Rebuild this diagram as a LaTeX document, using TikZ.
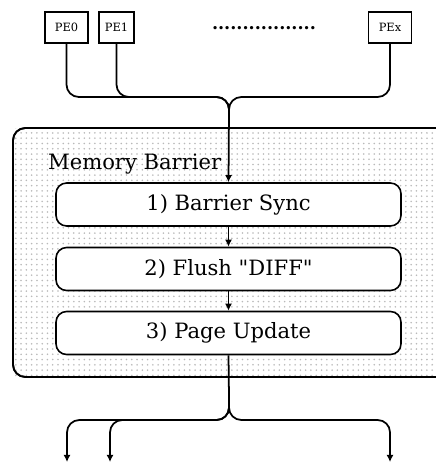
\documentclass[tikz,border=0pt]{standalone}
\usepackage{fontspec}
\setmainfont{DejaVu Serif}
\usepackage{tikz}
\usetikzlibrary{patterns,arrows.meta}

\tikzset{
  pebox/.style={draw, line width=0.9pt, minimum height=0.62cm, inner sep=0pt, font=\fontsize{6.5}{8}\selectfont},
  stepbox/.style={draw, line width=0.9pt, fill=white, rounded corners=6pt, minimum width=6.9cm, minimum height=0.86cm, font=\fontsize{12}{14}\selectfont},
  wire/.style={line width=1pt, rounded corners=7pt},
}

\begin{document}
\begin{tikzpicture}[x=0.02cm, y=-0.02cm, >={Latex[length=4pt,width=4pt]}]
\useasboundingbox (0,0) rectangle (435,465);

% Processing elements
\node [pebox, minimum width=0.86cm] (pe0) at (66.5,27.5) {PE0};
\node [pebox, minimum width=0.70cm] (pe1) at (116.5,27.5) {PE1};
\node [pebox, minimum width=0.86cm] (pex) at (390,27.5) {PEx};
\node [font=\bfseries\fontsize{10}{11}\selectfont] (dots) at (264,28) {.................};

% Memory barrier region
\draw [line width=1pt, rounded corners=7pt, fill=white] (13,128) rectangle (450,377);
\fill [pattern=dots, pattern color=gray!55] (14,129) rectangle (449,376);
\draw [line width=1pt, rounded corners=7pt] (13,128) rectangle (450,377);
\node [anchor=base west, font=\fontsize{12}{14}\selectfont] (mb) at (42,170) {Memory Barrier};

% Steps
\node [stepbox] (b1) at (228.5,204.5) {1) Barrier Sync};
\node [stepbox] (b2) at (228.5,269) {2) Flush \textquotedbl DIFF\textquotedbl};
\node [stepbox] (b3) at (228.5,333) {3) Page Update};

% Merge of the PEs
\coordinate (hub) at (229,97);
\coordinate (merge) at (229,110);
\draw [wire] (pe0.south) |- (hub) -- (merge);
\draw [wire] (pe1.south) |- (hub) -- (merge);
\draw [wire] (pex.south) |- (hub) -- (merge);
\draw [line width=1pt, ->] (merge) -- (b1.north);
\draw [line width=1pt, ->] (b1) -- (b2);
\draw [line width=1pt, ->] (b2) -- (b3);

% Split to the PEs
\coordinate (split) at (229,398);
\coordinate (fork) at (229,420);
\coordinate (out0) at (67,462);
\coordinate (out1) at (110,462);
\coordinate (outx) at (390,462);
\draw [line width=1pt] (b3.south) -- (split);
\draw [wire, ->] (split) -- (fork) -| (out0);
\draw [wire, ->] (split) -- (fork) -| (out1);
\draw [wire, ->] (split) -- (fork) -| (outx);
\end{tikzpicture}
\end{document}
